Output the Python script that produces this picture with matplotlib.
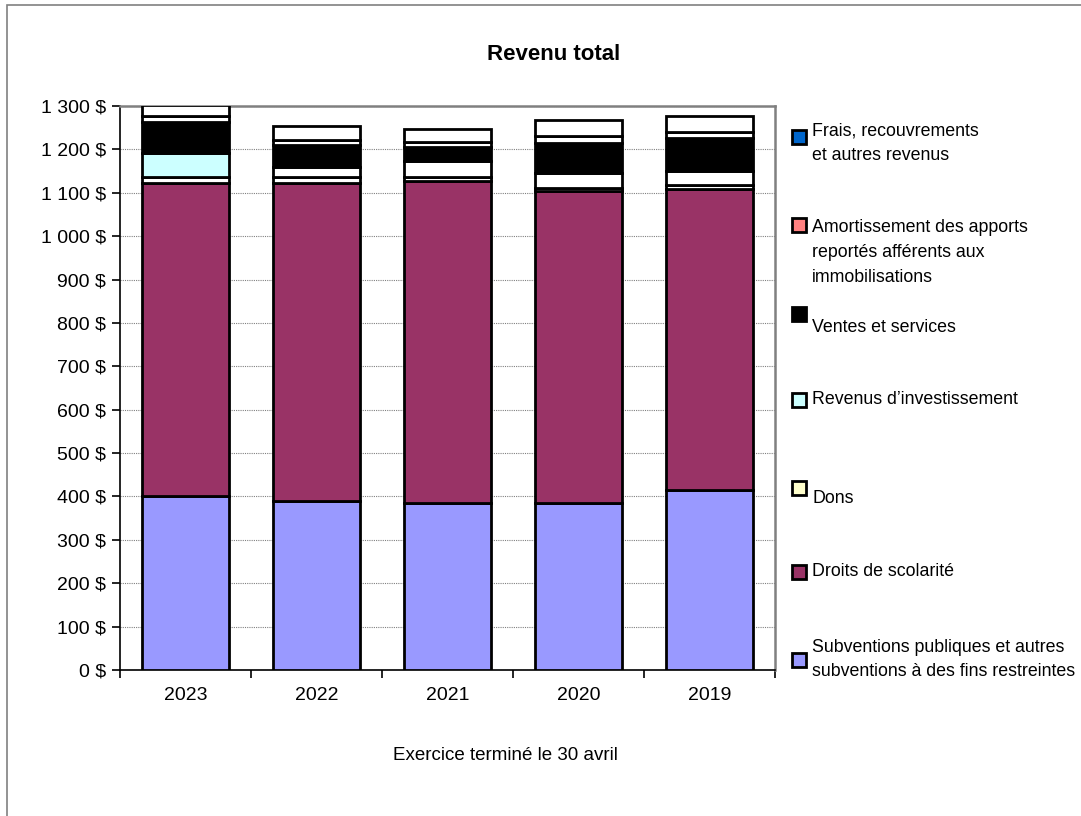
import matplotlib
matplotlib.use("Agg")
import matplotlib.pyplot as plt
from matplotlib.patches import Rectangle
import numpy as np

plt.rcParams['font.family'] = ['Liberation Sans', 'DejaVu Sans']

years = ["2023", "2022", "2021", "2020", "2019"]
subventions = [400, 390, 386, 386, 415]
droits = [722, 732, 740, 717, 693]
dons = [15, 15, 10, 9, 11]
revenus_inv = [54, 23, 37, 34, 31]
ventes = [71, 49, 32, 68, 77]
amortissement = [16, 13, 11, 17, 13]
frais = [25, 33, 30, 37, 36]

yticks = list(range(0, 1301, 100))
ytick_labels = [("{:,}".format(v)).replace(",", " ") + " $" for v in yticks]

legend_labels = [
    ["Frais, recouvrements", "et autres revenus"],
    ["Amortissement des apports", "reportés afférents aux", "immobilisations"],
    ["Ventes et services"],
    ["Revenus d\u2019investissement"],
    ["Dons"],
    ["Droits de scolarité"],
    ["Subventions publiques et autres", "subventions à des fins restreintes"],
]
legend_colors = ["#0066CC", "#FF8080", "#000000", "#CCFFFF", "#FFFFCC", "#993366", "#9999FF"]

W, H = 1081, 816
fig = plt.figure(figsize=(W / 100, H / 100), dpi=100)

def fx(px):
    return px / W

def fy(py):
    return 1 - py / H

ax = fig.add_axes([fx(120), fy(670), fx(655), 564 / H])

x = np.arange(len(years))
bw = 0.67
ekw = dict(edgecolor="black", linewidth=2.0, width=bw, zorder=3)

bottom = np.zeros(len(years))
series = [
    (subventions, ["#9999FF"] * 5),
    (droits, ["#993366"] * 5),
    (dons, ["#FFFFFF"] * 5),
    (revenus_inv, ["#CCFFFF"] + ["#FFFFFF"] * 4),
    (ventes, ["#000000"] * 5),
    (amortissement, ["#FFFFFF"] * 5),
    (frais, ["#FFFFFF"] * 5),
]
for vals, cols in series:
    vals = np.array(vals, dtype=float)
    ax.bar(x, vals, bottom=bottom, color=cols, **ekw)
    bottom += vals

ax.set_xlim(-0.5, len(years) - 0.5)
ax.set_ylim(0, 1300)
ax.set_yticks(yticks)
ax.set_yticklabels(ytick_labels, fontsize=14)
ax.yaxis.grid(True, linestyle=(0, (1, 1)), color="#808080", linewidth=0.8, zorder=0)
ax.set_axisbelow(True)

ax.set_xticks(np.arange(-0.5, len(years), 1.0))
ax.set_xticklabels([])
ax.set_xticks(x, minor=True)
ax.set_xticklabels(years, minor=True, fontsize=14)
ax.tick_params(axis="x", which="major", direction="out", length=6, width=1.2, color="black")
ax.tick_params(axis="x", which="minor", length=0, pad=12)
ax.tick_params(axis="y", direction="out", length=6, width=1.2, pad=4)

for s in ["top", "right"]:
    ax.spines[s].set_color("#808080")
    ax.spines[s].set_linewidth(1.8)
for s in ["left", "bottom"]:
    ax.spines[s].set_color("black")
    ax.spines[s].set_linewidth(1.2)

# Title and x label
fig.text(fx(554), fy(55), "Revenu total", ha="center", va="center",
         fontsize=16, fontweight="bold")
fig.text(fx(505), fy(755), "Exercice terminé le 30 avril", ha="center",
         va="center", fontsize=13.5)

# Legend drawn manually
first_line_y = [131, 228, 327, 400, 498, 572, 647]
marker_y = [137, 225, 314, 400, 488, 572, 660]
line_step = 24.5
msize = 14
for lines, col, ty, my in zip(legend_labels, legend_colors, first_line_y, marker_y):
    fig.patches.append(Rectangle((fx(792), fy(my + msize / 2)), msize / W, msize / H,
                                 transform=fig.transFigure, facecolor=col,
                                 edgecolor="black", linewidth=2.0))
    for i, ln in enumerate(lines):
        fig.text(fx(812), fy(ty + i * line_step), ln, ha="left", va="center",
                 fontsize=12.8)

# Outer frame
fig.patches.append(Rectangle((fx(7), fy(H + 5)), (W) / W, (H) / H,
                             transform=fig.transFigure, facecolor="none",
                             edgecolor="#808080", linewidth=1.2))

fig.savefig("out.png", dpi=100)
